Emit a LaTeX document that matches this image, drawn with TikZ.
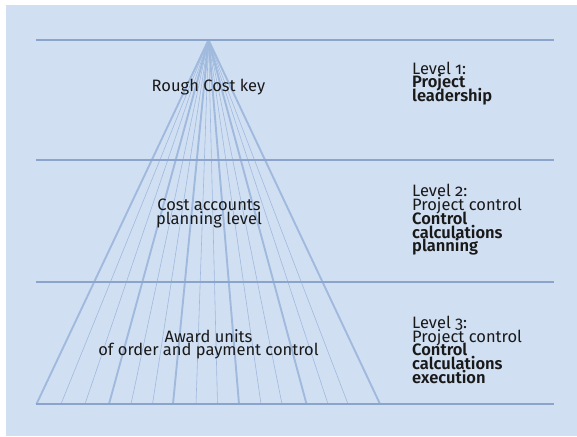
\documentclass[tikz,border=0pt]{standalone}
\usepackage{fontspec}
\setmainfont{Fira Sans}[BoldFont=* SemiBold, Numbers=OldStyle]
\definecolor{panel}{RGB}{209,223,242}
\definecolor{rule}{RGB}{139,164,204}
\definecolor{fan}{RGB}{160,186,222}
\definecolor{ink}{RGB}{25,25,25}
\newcommand\labelfont{\fontsize{16.5}{13.8}\selectfont\lineskiplimit=-30pt\relax}
\begin{document}
\begin{tikzpicture}[x=1pt,y=-1pt,
  levelrule/.style={draw=rule,line width=2.6pt},
  fanthick/.style={draw=fan,line width=1.9pt},
  fanthin/.style={draw=fan,line width=0.6pt},
  txt/.style={inner sep=0pt,text=ink,font=\labelfont},
  lvl/.style={txt,align=left,anchor=base west},
  mid/.style={txt,align=center,anchor=base}]
\useasboundingbox (0,0) rectangle (577,436);
\fill[white] (0,0) rectangle (577,436);
\fill[panel] (6,5) rectangle (577,436);
% apex and bottom ends
\coordinate (apex) at (208.5,40);
\foreach \x [count=\i] in {36.5,61,85,109,131,152.5,173,196,217.5,239,261,282,306.5,328,348,380}{
  \coordinate (b\i) at (\x,404);
}
\foreach \i in {2,3,5,6,8,9,11,12,14,15}{ \draw[fanthin] (apex) -- (b\i); }
\foreach \i in {1,4,7,10,13,16}{ \draw[fanthick] (apex) -- (b\i); }
% horizontal rules
\foreach \y [count=\i] in {40,160,282,404}{
  \coordinate (l\i) at (36,\y);
  \coordinate (r\i) at (554,\y);
  \draw[levelrule] (l\i) -- (r\i);
}
% centre labels (base = baseline of last line)
\node[mid] (t1) at (208.5,91) {Rough Cost key};
\node[mid] (t2) at (209,224.3) {Cost accounts\\planning level};
\node[mid] (t3) at (208.5,355.9) {Award units\\of order and payment control};
% level labels
\node[lvl] (v1) at (412,101.6) {Level 1:\\\textbf{Project}\\\textbf{leadership}};
\node[lvl] (v2) at (412,251.9) {Level 2:\\Project control\\\textbf{Control}\\\textbf{calculations}\\\textbf{planning}};
\node[lvl] (v3) at (412,383.5) {Level 3:\\Project control\\\textbf{Control}\\\textbf{calculations}\\\textbf{execution}};
\end{tikzpicture}
\end{document}
